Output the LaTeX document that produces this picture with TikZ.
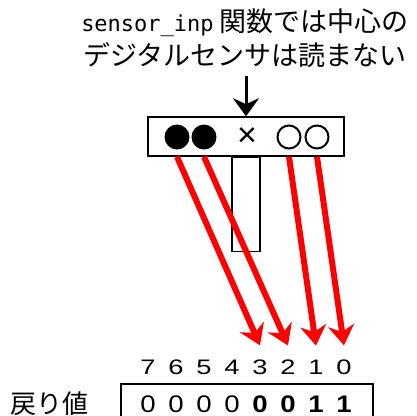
\documentclass[tikz,border=0pt]{standalone}
\usepackage{fontspec}
\setmainfont{Liberation Sans}
\newfontfamily\jpfont{Noto Sans CJK JP}
\newfontfamily\codefont{DejaVu Sans Mono}
\newfontfamily\digitfont[FakeStretch=1.3]{Liberation Sans}
\newfontfamily\bitfont[FakeStretch=1.15]{Liberation Sans}
\usepackage{tikz}
\usetikzlibrary{arrows.meta}
\definecolor{arrowred}{HTML}{FF0000}
\tikzset{
  sensoron/.style={circle, fill=black, minimum size=25pt, inner sep=0pt},
  sensoroff/.style={circle, draw=black, line width=2pt, minimum size=23pt, inner sep=0pt},
  bitnum/.style={font=\digitfont\fontsize{21}{21}\selectfont, inner sep=0pt},
  bitval/.style={font=\bitfont\fontsize{24}{24}\selectfont, inner sep=0pt},
  readarrow/.style={line width=6pt, color=arrowred, -{Stealth[length=20pt, width=26pt]}}
}

\begin{document}
\begin{tikzpicture}[x=1pt, y=-1pt, >=Stealth]
    \useasboundingbox (0,0) rectangle (416,416);

    % Caption above the sensor bar
    \node[anchor=base, inner sep=0pt, font=\jpfont\fontsize{27}{27}\selectfont] (note1) at (245,31)
        {{\codefont\fontsize{22}{22}\selectfont sensor\_inp} 関数では中心の};
    \node[anchor=base, inner sep=0pt, font=\jpfont\fontsize{27}{27}\selectfont] (note2) at (245,65)
        {デジタルセンサは読まない};

    % Sensor bar and its stem
    \node[draw, line width=1.5pt, minimum width=196pt, minimum height=39pt, inner sep=0pt] (sensors) at (246,136.5) {};
    \node[draw, line width=1.5pt, minimum width=28pt, minimum height=94pt, inner sep=0pt, anchor=north] (stem) at (sensors.south) {};
    \draw[line width=3pt, -{Stealth[length=18pt, width=26pt]}] ([yshift=-9pt]note2.south -| sensors.north) -- (sensors.north);

    % Sensors
    \node[sensoron] (s3) at (177,137) {};
    \node[sensoron] (s2) at (204,137) {};
    \node[inner sep=0pt, font=\fontsize{34}{34}\selectfont] (sc) at (247,137) {×};
    \node[sensoroff] (s1) at (289,137) {};
    \node[sensoroff] (s0) at (317,137) {};

    % Bit numbers and return value
    \foreach \i in {0,...,7}
        \node[bitnum] (n\i) at ({344-28*\i},367) {\i};
    \node[draw, line width=1.5pt, minimum width=252pt, minimum height=50pt, inner sep=0pt, anchor=north] (retval) at (247,383) {};
    \foreach \i/\v in {7/0,6/0,5/0,4/0}
        \node[bitval] (v\i) at ({344-28*\i},404.5) {\v};
    \foreach \i/\v in {3/0,2/0,1/1,0/1}
        \node[bitval, font=\bitfont\fontsize{24}{24}\selectfont\bfseries] (v\i) at ({344-28*\i},404.5) {\v};
    \node[inner sep=0pt, font=\jpfont\fontsize{26}{26}\selectfont] (rlabel) at (50,404) {戻り値};

    % Sensor to bit arrows
    \foreach \s in {0,...,3}
        \draw[readarrow] (s\s.south |- sensors.south) -- ([yshift=14pt]n\s.north);
\end{tikzpicture}
\end{document}
